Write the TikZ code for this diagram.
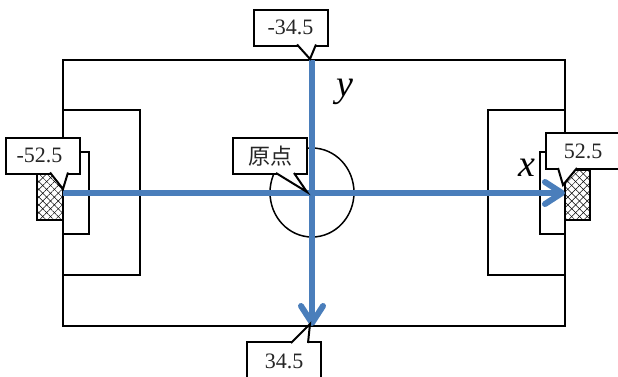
\documentclass[tikz,border=0pt]{standalone}
\usepackage{fontspec}
\usepackage{xcolor}
\usepackage{tikz}
\setmainfont{Liberation Serif}
\newfontfamily\cjkfont{Noto Sans CJK JP}
\usetikzlibrary{
arrows.meta,
positioning,
patterns.meta
}
\definecolor{FieldBlue}{HTML}{4A7EBB}
\definecolor{FieldGray}{HTML}{262626}
\tikzset{
fieldline/.style={draw=black, line width=1.5pt},
fieldgoal/.style={draw=black, line width=2pt,
  pattern={Lines[angle=45,distance=5.5pt,line width=.5pt]},
  postaction={pattern={Lines[angle=-45,distance=5.5pt,line width=.5pt]}}},
fieldaxis/.style={draw=FieldBlue, line width=6pt},
fieldtip/.style={-{Straight Barb[length=17pt,width=22pt,line width=6pt,round]}},
fieldnote/.style={rectangle, draw=black, fill=white, line width=2pt,
  inner sep=0pt, minimum width=74pt, minimum height=36pt, align=center,
  text=FieldGray, font=\fontsize{22}{26}\selectfont},
fieldtail/.style={draw=black, line width=2pt, line join=miter},
fieldname/.style={inner sep=0pt, font=\fontsize{38}{44}\selectfont\itshape}
}
\newcommand{\notetail}[3]{
  \fill[white] #1 -- #2 -- #3 -- cycle;
  \draw[fieldtail] #1 -- #2 -- #3;
}
\begin{document}
\begin{tikzpicture}[x=1pt, y=-1pt]
\useasboundingbox (0,0) rectangle (618,376);

\coordinate (left) at (63,193);
\coordinate (right) at (565,193);
\coordinate (top) at (312,60);
\coordinate (bottom) at (312,326);
\coordinate (origin) at (312,192.5);

\path[fieldgoal] (63,172) -- (37,172) -- (37,220) -- (63,220);
\path[fieldgoal] (565,170) -- (590,170) -- (590,220) -- (565,220);
\draw[fieldline] (63,60) rectangle (565,326);
\draw[fieldline] (63,110) rectangle (140,275);
\draw[fieldline] (565,110) rectangle (488,275);
\draw[fieldline] (63,152) rectangle (89,234);
\draw[fieldline] (565,152) rectangle (540,234);
\draw[fieldline] (origin) ellipse (42 and 44.5);

\draw[fieldaxis, fieldtip] (left) -- (right);
\draw[fieldaxis, fieldtip] (top) -- (bottom);

\node[fieldname] (xname) at (527,168) {x};
\node[fieldname] (yname) at (345,92) {y};

\node[fieldnote] (xmin) at (43,155.5) {-52.5\hspace*{7pt}};
\node[fieldnote] (xmax) at (583,151) {52.5};
\node[fieldnote] (ymin) at (290.5,27.5) {-34.5};
\node[fieldnote, minimum height=38pt] (ymax) at (284,361) {34.5};
\node[fieldnote, font=\cjkfont\fontsize{22}{26}\selectfont] (zero) at (270,156) {原点};

\notetail{(50,172.5)}{(63,189)}{(68,172.5)}
\notetail{(558,168)}{(563,185)}{(577,168)}
\notetail{(297,44.5)}{(310,59)}{(316,44.5)}
\notetail{(291,343)}{(310,324)}{(308,343)}
\notetail{(276,173)}{(307,192)}{(294,173)}
\end{tikzpicture}
\end{document}
